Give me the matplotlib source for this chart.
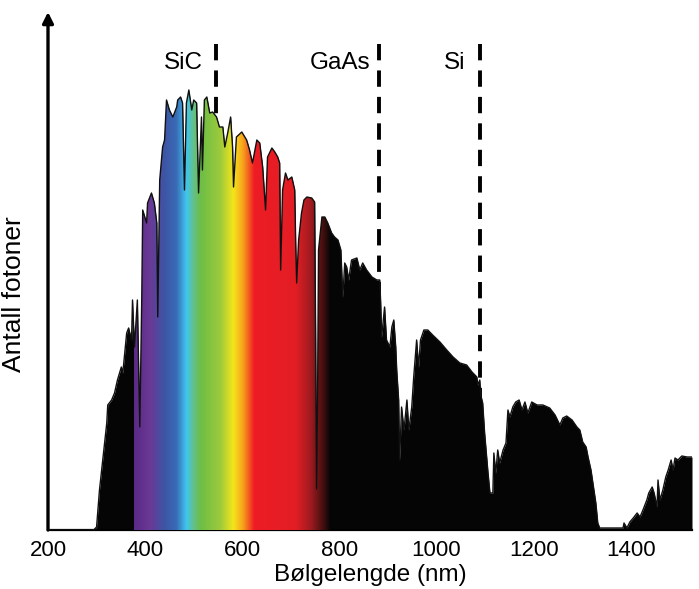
import numpy as np
import matplotlib
matplotlib.use('Agg')
import matplotlib.pyplot as plt
from matplotlib.colors import LinearSegmentedColormap

plt.rcParams['font.family'] = ['Liberation Sans', 'DejaVu Sans']

# solar photon spectrum (wavelength in nm, relative photon count)
wavelength = [200, 294, 300, 306, 312, 321, 323, 331, 337, 343, 351, 354, 362, 366, 372, 374,
              378, 384, 389, 393, 395, 403, 405, 413, 419, 424, 426, 430, 436, 440, 444, 450,
              457, 465, 467, 473, 477, 481, 485, 490, 496, 500, 506, 510, 516, 518, 522, 527,
              533, 539, 547, 553, 560, 564, 570, 576, 580, 582, 588, 599, 609, 615, 621, 630,
              636, 642, 648, 652, 661, 667, 673, 677, 679, 683, 689, 694, 702, 708, 710, 712,
              716, 722, 727, 733, 743, 749, 751, 753, 755, 757, 764, 770, 776, 784, 790, 797,
              803, 807, 811, 815, 819, 825, 836, 842, 848, 856, 867, 877, 883, 885, 887, 893,
              897, 904, 908, 912, 916, 918, 922, 924, 928, 933, 939, 943, 949, 953, 959, 963,
              967, 974, 982, 992, 1007, 1021, 1034, 1048, 1062, 1073, 1083, 1085, 1089, 1091,
              1095, 1099, 1106, 1110, 1116, 1118, 1122, 1126, 1130, 1137, 1143, 1147, 1151, 1157,
              1163, 1170, 1176, 1182, 1188, 1196, 1207, 1219, 1233, 1244, 1254, 1260, 1268, 1279,
              1289, 1295, 1301, 1308, 1312, 1318, 1322, 1328, 1332, 1336, 1384, 1386, 1392, 1398,
              1405, 1413, 1419, 1425, 1433, 1437, 1444, 1448, 1454, 1456, 1460, 1466, 1472, 1477,
              1483, 1487, 1491, 1497, 1505, 1516, 1526]
photons = [0, 0, 3, 40, 67, 107, 125, 130, 137, 150, 163, 157, 197, 202, 190, 230,
           183, 230, 103, 230, 320, 307, 327, 337, 327, 307, 213, 350, 383, 390, 430, 420,
           413, 423, 430, 433, 427, 340, 427, 440, 420, 430, 427, 337, 413, 360, 430, 433,
           417, 418, 413, 403, 403, 383, 397, 413, 383, 343, 393, 398, 390, 380, 367, 390,
           387, 363, 320, 373, 382, 378, 373, 367, 260, 340, 357, 350, 353, 340, 287, 247,
           290, 317, 330, 333, 332, 328, 200, 41, 130, 280, 313, 313, 307, 297, 293, 290,
           280, 233, 267, 263, 250, 270, 272, 260, 267, 260, 253, 250, 250, 227, 193, 223,
           190, 183, 203, 210, 183, 160, 130, 70, 123, 100, 130, 100, 123, 153, 190, 163,
           190, 200, 200, 195, 188, 180, 173, 167, 165, 158, 153, 145, 150, 135,
           127, 97, 57, 37, 37, 77, 57, 80, 67, 80, 87, 120, 113, 123,
           128, 130, 120, 128, 117, 128, 125, 125, 122, 115, 105, 112, 114, 110,
           103, 100, 88, 83, 73, 60, 47, 27, 7, 2, 2, 7, 2, 8,
           12, 17, 13, 20, 30, 37, 43, 37, 23, 50, 30, 40, 53, 60,
           70, 60, 72, 70, 74, 73, 73]

# band gap markers
gap_labels = ['SiC', 'GaAs', 'Si']
gap_wavelength = [545, 882, 1090]
gap_label_x = [518, 864, 1060]

# colours of the visible part
rainbow_nm = [378, 410, 440, 465, 485, 500, 515, 555, 582, 602, 625, 710, 742, 765, 782]
rainbow_colors = ['#5a2a86', '#6a3995', '#3d55a5', '#3a6cb6', '#3fc6f0', '#63c08a', '#6dbe45',
                  '#9dca3c', '#f4e61a', '#f7a01c', '#ed1c24', '#e31e25', '#9c1b1f', '#4a1010',
                  '#050505']

x = np.array(wavelength, dtype=float)
y = np.array(photons, dtype=float)
xmin, xmax = 200, 1526
ymax = 518

fig = plt.figure(figsize=(6.99, 5.89), dpi=100)
ax = fig.add_axes([48 / 699, 59 / 589, 644 / 699, 518 / 589])

# dashed band gap lines behind the spectrum, drawn from the top down
for lbl, wl, lx in zip(gap_labels, gap_wavelength, gap_label_x):
    ax.plot([wl, wl], [486, 0], color='black', lw=2.8, dashes=(4.2, 2.6), zorder=1)
    ax.text(lx, 467, lbl, ha='right', va='center', fontsize=17.5)

poly = ax.fill_between(x, 0, y, color='#050505', lw=0, zorder=2)
ax.plot(x, y, color='#111111', lw=1.0, zorder=4)

# rainbow clipped to the spectrum
pos = [(v - rainbow_nm[0]) / (rainbow_nm[-1] - rainbow_nm[0]) for v in rainbow_nm]
cmap = LinearSegmentedColormap.from_list('vis', list(zip(pos, rainbow_colors)))
grad = np.linspace(0, 1, 512).reshape(1, -1)
im = ax.imshow(grad, cmap=cmap, aspect='auto', zorder=3,
               extent=[rainbow_nm[0], rainbow_nm[-1], 0, ymax], interpolation='bilinear')
clip = poly.get_paths()[0]
im.set_clip_path(clip, transform=ax.transData)

ax.set_xlim(xmin, xmax)
ax.set_ylim(0, ymax)
ax.set_xticks([200, 400, 600, 800, 1000, 1200, 1400])
ax.set_yticks([])
ax.tick_params(axis='x', length=0, pad=7, labelsize=16)

for s in ['top', 'right', 'left']:
    ax.spines[s].set_visible(False)
ax.spines['bottom'].set_linewidth(1.6)

# y axis with arrow
ax.annotate('', xy=(0, 1.0), xytext=(0, 0), xycoords='axes fraction',
            arrowprops=dict(arrowstyle='-|>', lw=2.4, color='black', mutation_scale=16,
                            shrinkA=0, shrinkB=0))

ax.set_xlabel('Bølgelengde (nm)', fontsize=17.5, labelpad=2)
ax.set_ylabel('Antall fotoner', fontsize=19)
ax.yaxis.set_label_coords(-0.034, 0.456)

fig.savefig('out.png', dpi=100)
